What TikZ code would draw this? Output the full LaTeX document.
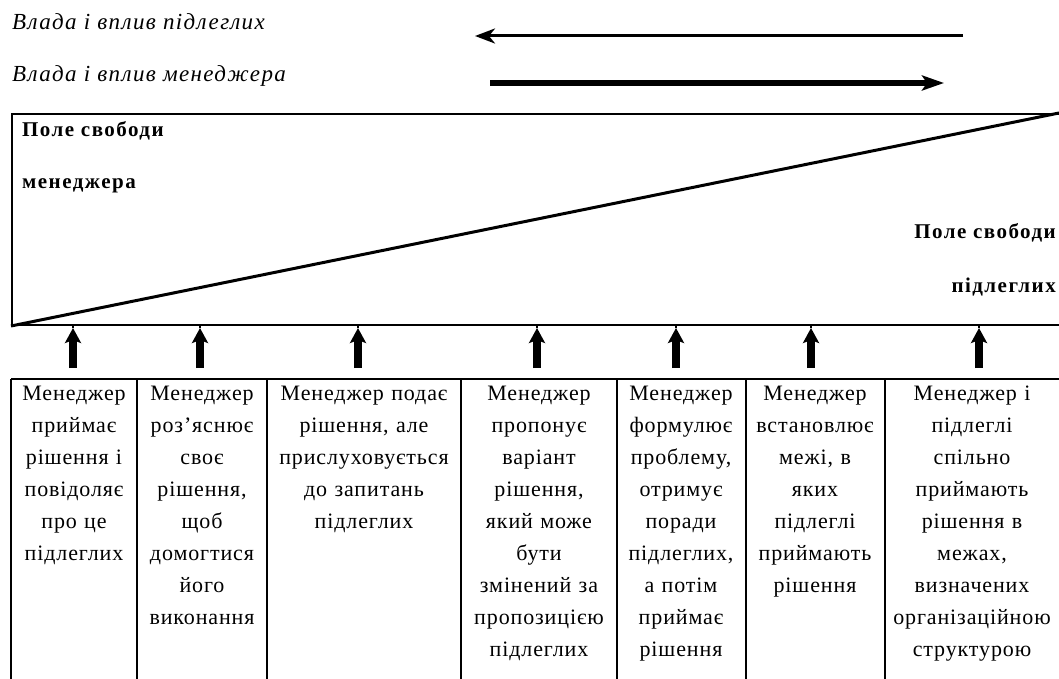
\documentclass[tikz,border=0pt]{standalone}
\usepackage{fontspec}
\setmainfont{Liberation Serif}
\usetikzlibrary{arrows.meta}

\begin{document}
\begin{tikzpicture}[x=1pt,y=-1pt,
    legendtext/.style={font=\fontsize{23}{26}\selectfont\itshape\addfontfeature{LetterSpace=6}, anchor=base west, inner sep=0pt},
    fieldlabel/.style={font=\fontsize{21}{24}\selectfont\bfseries\addfontfeature{LetterSpace=7}, inner sep=0pt},
    celltext/.style={font=\fontsize{22}{32}\selectfont\addfontfeature{LetterSpace=4}, align=center, anchor=north, inner sep=0pt},
    frameline/.style={line width=2pt},
    gridline/.style={line width=1.6pt},
    uparrow/.style={line width=8pt, -{Stealth[length=15pt,width=16pt,inset=3pt]}},
    stemline/.style={line width=1.2pt}
  ]
  \useasboundingbox (0,0) rectangle (1059,679);
  \clip (0,0) rectangle (1059,679);
  \fill[white] (0,0) rectangle (1059,679);

  % legend: power and influence
  \node[legendtext] (lsub) at (12,30) {Влада і вплив підлеглих};
  \node[legendtext] (lman) at (12,82) {Влада і вплив менеджера};
  \coordinate (subA) at (963,36);
  \coordinate (subB) at (475,36);
  \coordinate (manA) at (490,83);
  \coordinate (manB) at (944,83);
  \draw[line width=3pt, -{Stealth[length=20pt,width=15pt,inset=6pt]}] (subA) -- (subB);
  \draw[line width=6pt, -{Stealth[length=22pt,width=15pt,inset=5pt]}] (manA) -- (manB);

  % field of freedom
  \node[draw, frameline, anchor=north west, minimum width=1062pt, minimum height=211pt, inner sep=0pt] (field) at (11,113) {};
  \coordinate (diagtop) at (1059,113);
  \draw[line width=3pt] (field.south west) -- (diagtop);
  \node[fieldlabel, anchor=base west] (fm1) at (22,137) {Поле свободи};
  \node[fieldlabel, anchor=base west] (fm2) at (22,188) {менеджера};
  \node[fieldlabel, anchor=base east] (fs1) at (1056,238) {Поле свободи};
  \node[fieldlabel, anchor=base east] (fs2) at (1056,292) {підлеглих};

  % table of leadership styles
  \draw[gridline] (11,379) -- (1070,379);
  \foreach \bx in {11,137,267,461,617,746,885}
    \draw[gridline] (\bx,379) -- (\bx,690);

  \node[celltext, text width=124pt] (c1) at (74,386)
    {Менеджер\\приймає\\рішення і\\повідоляє\\про це\\підлеглих};
  \node[celltext, text width=128pt] (c2) at (202,386)
    {Менеджер\\роз’яснює\\своє\\рішення,\\щоб\\домогтися\\його\\виконання};
  \node[celltext, text width=192pt] (c3) at (364,386)
    {Менеджер подає\\рішення, але\\прислуховується\\до запитань\\підлеглих};
  \node[celltext, text width=154pt] (c4) at (539,386)
    {Менеджер\\пропонує\\варіант\\рішення,\\який може\\бути\\змінений за\\пропозицією\\підлеглих};
  \node[celltext, text width=127pt] (c5) at (681,386)
    {Менеджер\\формулює\\проблему,\\отримує\\поради\\підлеглих,\\а потім\\приймає\\рішення};
  \node[celltext, text width=137pt] (c6) at (815,386)
    {Менеджер\\встановлює\\межі, в\\яких\\підлеглі\\приймають\\рішення};
  \node[celltext, text width=166pt] (c7) at (972,386)
    {Менеджер і\\підлеглі\\спільно\\приймають\\рішення в\\межах,\\визначених\\організаційною\\структурою};

  % arrows from each style up to the field
  \foreach \ax in {73,200,358,537,676,811,979} {
    \coordinate (afoot) at (\ax,368);
    \coordinate (ahead) at (\ax,328);
    \coordinate (atop) at (\ax,324);
    \draw[uparrow] (afoot) -- (ahead);
    \draw[stemline] (ahead) -- (atop);
  }
\end{tikzpicture}
\end{document}
